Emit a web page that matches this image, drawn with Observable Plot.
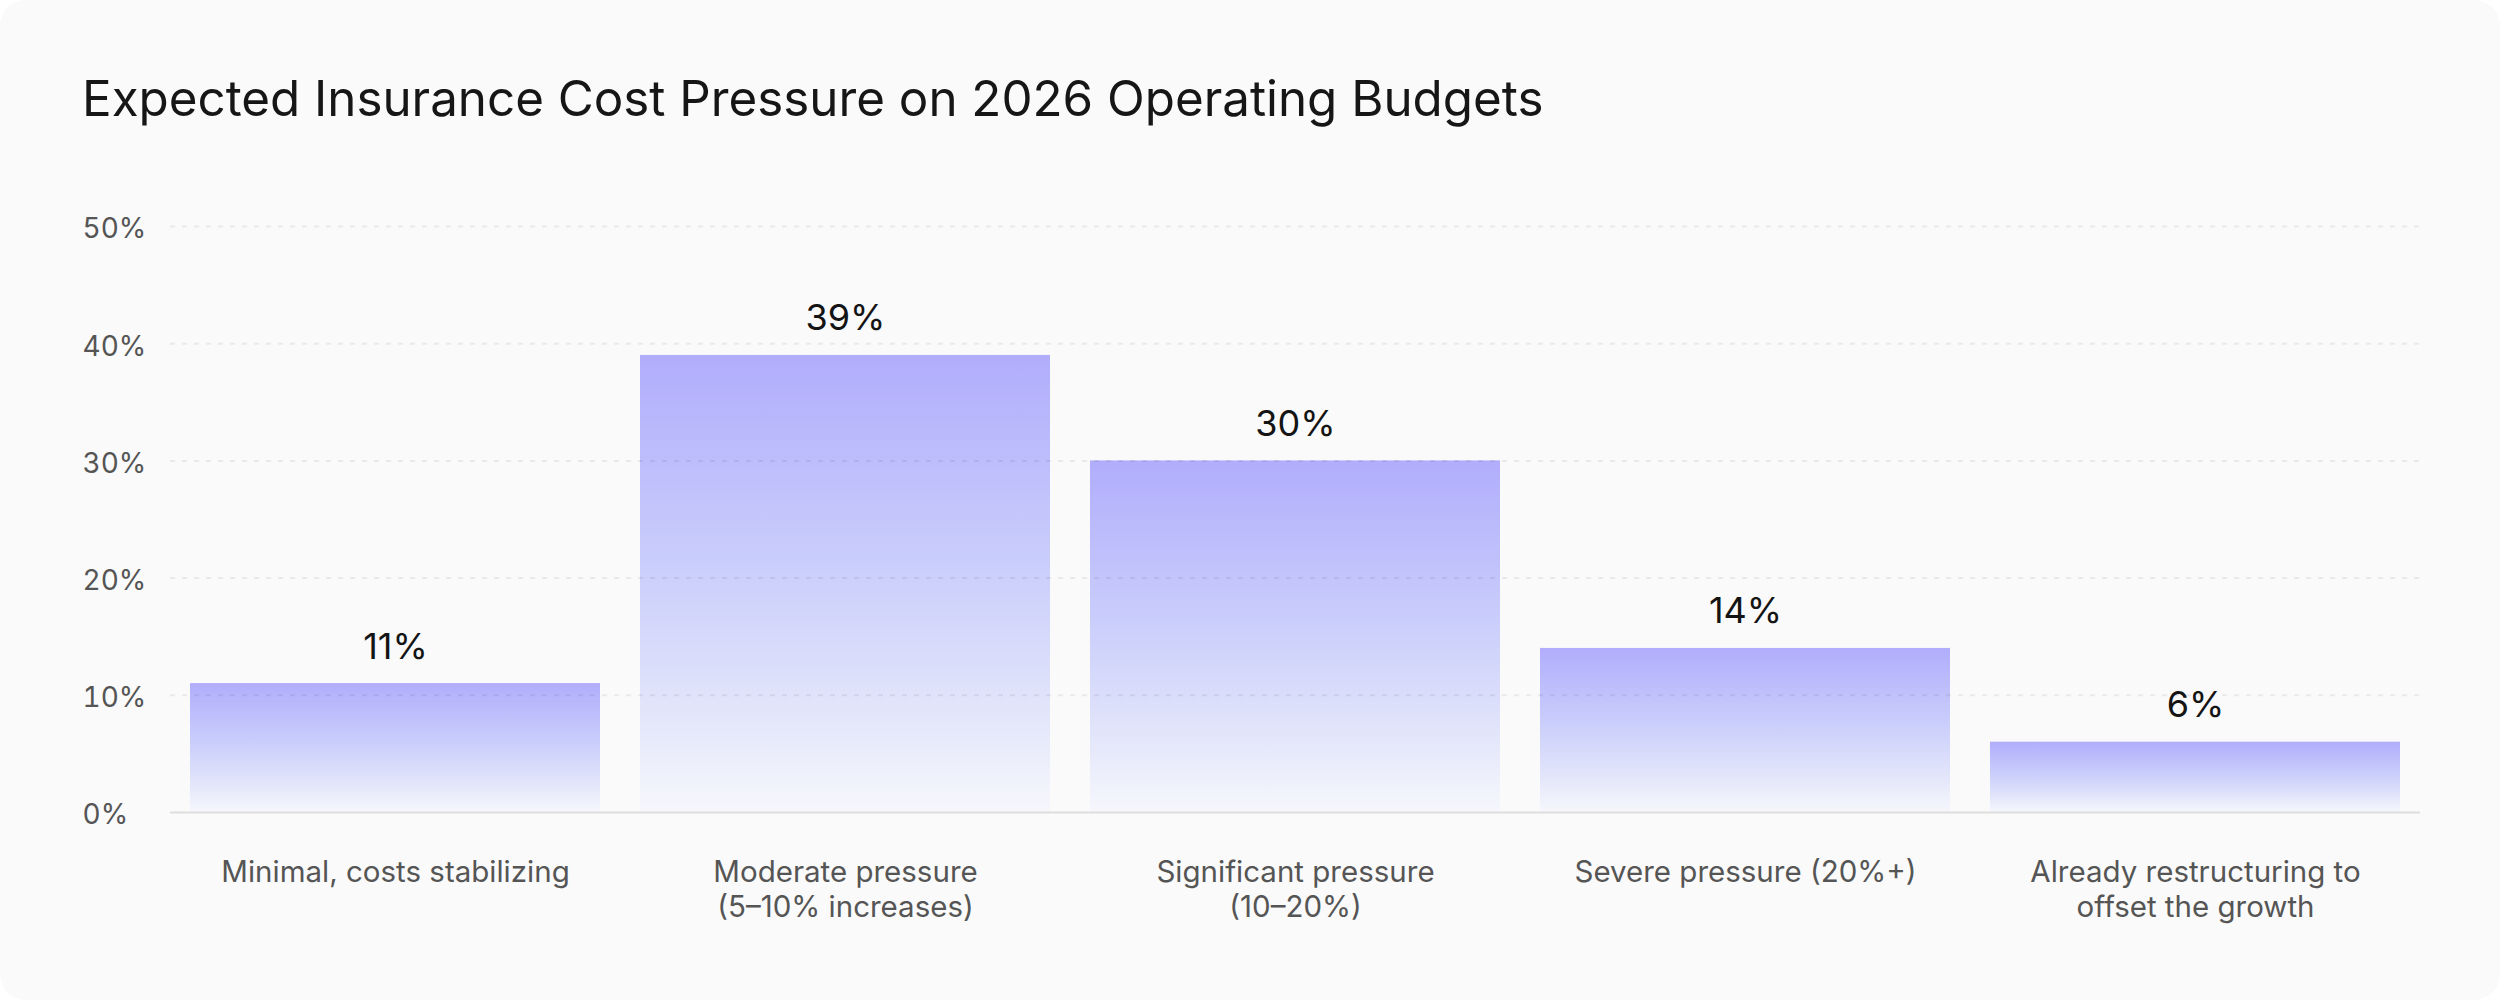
<!DOCTYPE html>
<html>
<head>
<meta charset="utf-8">
<script src="https://cdn.jsdelivr.net/npm/d3@7"></script>
<script src="https://cdn.jsdelivr.net/npm/@observablehq/plot@0.6"></script>
<style>
  html, body { margin: 0; padding: 0; background: #ffffff; }
  #card {
    position: relative; width: 2500px; height: 1000px;
    background: #fafafa; border-radius: 26px; overflow: hidden;
    font-family: Inter, "Noto Sans", sans-serif;
  }
  #title {
    position: absolute; left: 82px; top: 74px;
    font-size: 49.3px; line-height: 48px; color: #161616; font-weight: 400;
    white-space: nowrap;
  }
  #chart { position: absolute; left: 0; top: 150px; }
</style>
</head>
<body>
<div id="card">
  <div id="title">Expected Insurance Cost Pressure on 2026 Operating Budgets</div>
  <div id="chart"></div>
</div>
<script>
const categories = [
  "Minimal, costs stabilizing",
  "Moderate pressure\n(5–10% increases)",
  "Significant pressure\n(10–20%)",
  "Severe pressure (20%+)",
  "Already restructuring to\noffset the growth"
];
const values = [11, 39, 30, 14, 6];
const yTicks = [0, 10, 20, 30, 40, 50];

const data = categories.map((c, i) => ({category: c, value: values[i]}));

const plot = Plot.plot({
  width: 2500,
  height: 850,
  marginTop: 76,
  marginBottom: 188,
  marginLeft: 170,
  marginRight: 80,
  style: {background: "transparent", fontFamily: "Inter, 'Noto Sans', sans-serif", overflow: "visible"},
  x: {domain: categories, paddingInner: 0.09, paddingOuter: 0.045, axis: null},
  y: {domain: [0, 50], axis: null},
  marks: [
    Plot.barY(data, {x: "category", y: "value", fill: "url(#barGrad)", inset: 0}),
    Plot.gridY(yTicks.filter(d => d > 0), {stroke: "#000", strokeOpacity: 0.065, strokeWidth: 2, strokeDasharray: "5,7"}),
    Plot.ruleY([0], {stroke: "#dddddd", strokeWidth: 2}),
    Plot.axisY(yTicks, {
      anchor: "left", tickSize: 0, tickPadding: 0, textAnchor: "start", dx: -88, dy: 3,
      tickFormat: d => d + "%", fontSize: 28, fill: "#555555", label: null
    }),
    Plot.text(data, {
      x: "category", y: "value", text: d => d.value + "%",
      lineAnchor: "bottom", dy: -25, fontSize: 36, fill: "#141414"
    }),
    Plot.text(data, {
      x: "category", text: "category", frameAnchor: "bottom",
      lineAnchor: "top", dy: 44, lineHeight: 1.2, fontSize: 29.5, fill: "#555555"
    })
  ]
});

const svg = d3.select(plot);
const defs = svg.insert("defs", ":first-child");
const grad = defs.append("linearGradient")
  .attr("id", "barGrad").attr("x1", 0).attr("y1", 0).attr("x2", 0).attr("y2", 1);
grad.append("stop").attr("offset", "0%").attr("stop-color", "#b1adfc");
grad.append("stop").attr("offset", "45%").attr("stop-color", "#c9cdfb");
grad.append("stop").attr("offset", "75%").attr("stop-color", "#e0e3fa");
grad.append("stop").attr("offset", "100%").attr("stop-color", "#f6f7fc");

document.getElementById("chart").appendChild(plot);
</script>
</body>
</html>
